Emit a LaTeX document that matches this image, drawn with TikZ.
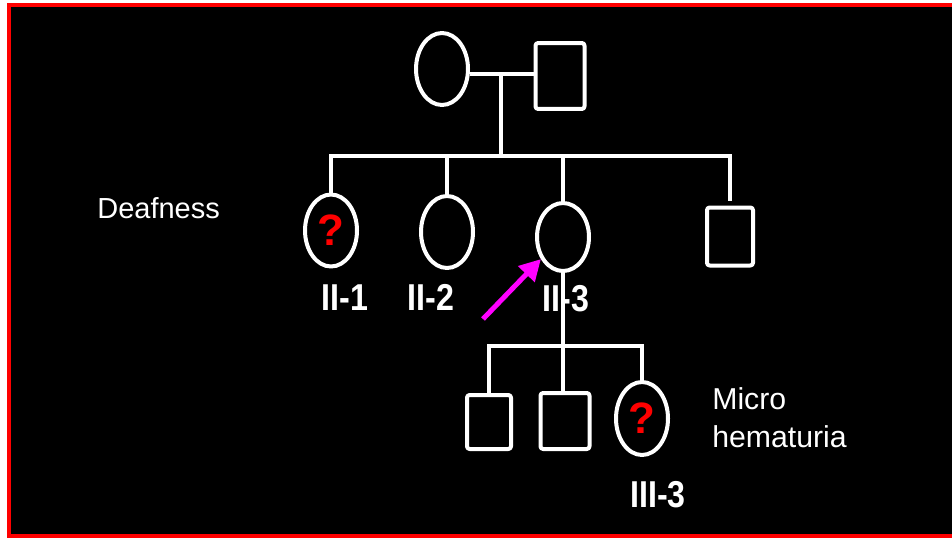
\documentclass[tikz,border=0pt]{standalone}
\usepackage{fontspec}
\setmainfont{Liberation Sans}
\newfontfamily\tagfont[FakeStretch=0.86]{Liberation Sans}
\usetikzlibrary{arrows.meta,shapes.geometric}
\definecolor{probandmag}{RGB}{255,0,255}

\begin{document}
\begin{tikzpicture}[x=0.02cm,y=-0.02cm,line cap=round,line join=round,
  female/.style={ellipse,draw=white,line width=0.08cm,inner sep=0pt,minimum width=1.04cm,minimum height=1.44cm,text=red,font=\fontsize{25}{25}\selectfont\bfseries},
  male/.style={rectangle,draw=white,line width=0.08cm,rounded corners=1.5pt,inner sep=0pt,minimum width=0.92cm,minimum height=1.12cm},
  link/.style={draw=white,line width=0.08cm,line cap=butt,line join=miter},
  gen/.style={text=white,font=\tagfont\fontsize{21.3}{21.3}\selectfont\bfseries,anchor=base,inner sep=0pt},
  trait/.style={text=white,font=\fontsize{16.5}{21.6}\selectfont,anchor=base west,inner sep=0pt,align=left},
  pointer/.style={draw=probandmag,line width=0.1cm,line cap=butt,-{Triangle[length=0.42cm,width=0.44cm]}}]
\path[use as bounding box] (0,0) rectangle (952,538);
\fill[white] (0,0) rectangle (952,538);
\fill[black] (9,5) rectangle (952,536);
\draw[red,line width=0.08cm,line cap=butt,line join=miter] (952,5) -- (9,5) -- (9,536) -- (952,536);

% generation I
\node[female] (mother) at (442,69) {};
\node[male,minimum width=0.98cm,minimum height=1.32cm] (father) at (560,76) {};
\coordinate (mate) at (501,74);
\coordinate (sib2) at (501,156);
\draw[link] (mother.east |- mate) -- (father.west |- mate);
\draw[link] (mate) -- (sib2);

% generation II
\node[female] (d1) at (331,230.5) {?};
\node[female] (d2) at (447,232) {};
\node[female,minimum height=1.36cm] (d3) at (563,237) {};
\node[male,minimum height=1.16cm] (s4) at (730,236.5) {};
\draw[link] (d1.north) -- (d1.north |- sib2) -- (s4.north |- sib2) -- ([yshift=2.8pt]s4.north);
\draw[link] (d2.north) -- (d2.north |- sib2);
\draw[link] (d3.north) -- (d3.north |- sib2);

% generation III
\node[male,minimum width=0.88cm,minimum height=1.08cm] (s1) at (489,422) {};
\node[male,minimum width=0.98cm] (s2) at (565,421) {};
\node[female,minimum height=1.46cm] (d6) at (642,418.5) {?};
\coordinate (sib3) at (563,346);
\draw[link] (d3.south) -- (d3.south |- s2.north);
\draw[link] (s1.north) -- (s1.north |- sib3) -- (d6.north |- sib3) -- (d6.north);

% labels
\node[gen] (l21) at (345,310) {II-1};
\node[gen] (l22) at (431,310) {II-2};
\node[gen] (l23) at (566,311) {II-3};
\node[gen] (l33) at (658,507) {III-3};
\node[trait] (deaf) at (97,218) {Deafness};
\node[trait,font=\fontsize{17.2}{21.6}\selectfont] (micro) at (712,447) {Micro\\hematuria};

% proband
\coordinate (tail) at (483,319);
\draw[pointer] (tail) -- (d3.225);
\end{tikzpicture}
\end{document}
